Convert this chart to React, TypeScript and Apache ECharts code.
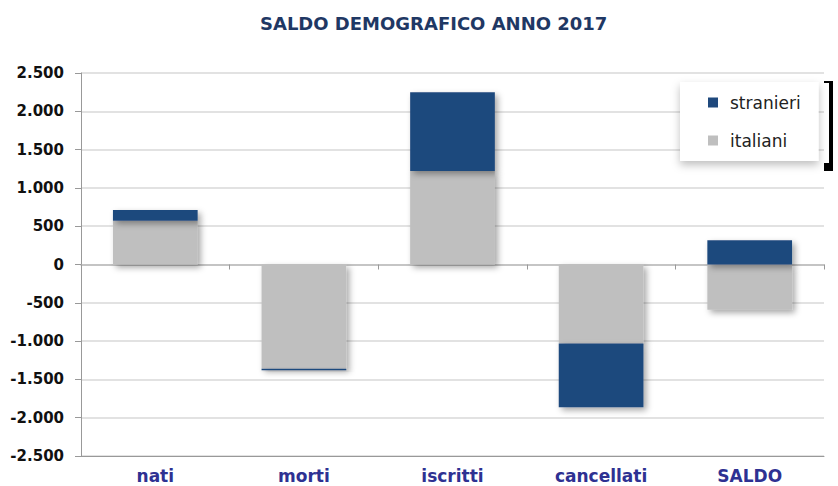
import React, { useEffect, useRef } from "react";
import * as echarts from "echarts";

const categories = ["nati", "morti", "iscritti", "cancellati", "SALDO"];
const italiani = [570, -1360, 1220, -1030, -590];
const stranieri = [140, -20, 1030, -835, 315];
const yTicks = { min: -2500, max: 2500, interval: 500 };

const fmt = (v: number) => {
  const s = Math.abs(v).toString().replace(/\B(?=(\d{3})+(?!\d))/g, ".");
  return (v < 0 ? "-" : "") + s;
};

export default function App() {
  const ref = useRef<HTMLDivElement>(null);
  useEffect(() => {
    const chart = echarts.init(ref.current!, null, { renderer: "svg" });
    const shadow = {
      shadowColor: "rgba(0,0,0,0.35)",
      shadowBlur: 6,
      shadowOffsetX: 3,
      shadowOffsetY: 3,
    };
    chart.setOption({
      animation: false,
      backgroundColor: "#fff",
      title: {
        text: "SALDO DEMOGRAFICO ANNO 2017",
        left: 255,
        top: 9,
        textStyle: {
          fontFamily: "DejaVu Sans",
          fontWeight: "bold",
          fontSize: 18,
          color: "#1f3864",
        },
      },
      legend: {
        data: ["stranieri", "italiani"],
        orient: "vertical",
        left: 680,
        top: 82,
        width: 142,
        padding: [12, 18, 12, 28],
        itemGap: 21,
        itemWidth: 10,
        itemHeight: 10,
        icon: "rect",
        backgroundColor: "#fff",
        shadowColor: "rgba(0,0,0,0.25)",
        shadowBlur: 8,
        shadowOffsetY: 4,
        textStyle: {
          fontFamily: "DejaVu Sans",
          fontSize: 17,
          color: "#222",
          padding: [0, 0, 0, 7],
        },
      },
      grid: { left: 81, right: 14, top: 73, bottom: 30 },
      xAxis: [
        {
          type: "category",
          data: categories,
          position: "bottom",
          axisLine: { onZero: false, lineStyle: { color: "#999", width: 1 } },
          axisTick: { show: false },
          axisLabel: {
            fontFamily: "DejaVu Sans",
            fontWeight: "bold",
            fontSize: 17,
            color: "#2e3192",
            margin: 11,
          },
        },
        {
          type: "category",
          data: categories,
          position: "bottom",
          axisLine: { onZero: true, lineStyle: { color: "#bbb", width: 1.5 } },
          axisTick: { show: true, length: 5, lineStyle: { color: "#999" } },
          axisLabel: { show: false },
        },
      ],
      yAxis: {
        type: "value",
        min: yTicks.min,
        max: yTicks.max,
        interval: yTicks.interval,
        axisLine: { show: true, lineStyle: { color: "#999" } },
        axisTick: { show: true, length: 6, lineStyle: { color: "#999" } },
        splitLine: { lineStyle: { color: "#d9d9d9", width: 1.5 } },
        axisLabel: {
          formatter: fmt,
          fontFamily: "DejaVu Sans",
          fontWeight: "bold",
          fontSize: 15,
          color: "#111",
          margin: 17,
        },
      },
      series: [
        {
          name: "italiani",
          type: "bar",
          stack: "tot",
          data: italiani,
          barWidth: "57%",
          itemStyle: { color: "#bfbfbf", ...shadow },
        },
        {
          name: "stranieri",
          type: "bar",
          stack: "tot",
          data: stranieri,
          barWidth: "57%",
          itemStyle: { color: "#1f497d", ...shadow },
        },
      ],
      graphic: [
        { type: "rect", shape: { x: 824, y: 81, width: 9, height: 2 }, style: { fill: "#000" } },
        { type: "rect", shape: { x: 829, y: 81, width: 4, height: 90 }, style: { fill: "#000" } },
        { type: "rect", shape: { x: 824, y: 163, width: 9, height: 8 }, style: { fill: "#000" } },
      ],
    });
    return () => chart.dispose();
  }, []);
  return <div ref={ref} style={{ width: 838, height: 486, position: "absolute", left: 0, top: 0 }} />;
}
